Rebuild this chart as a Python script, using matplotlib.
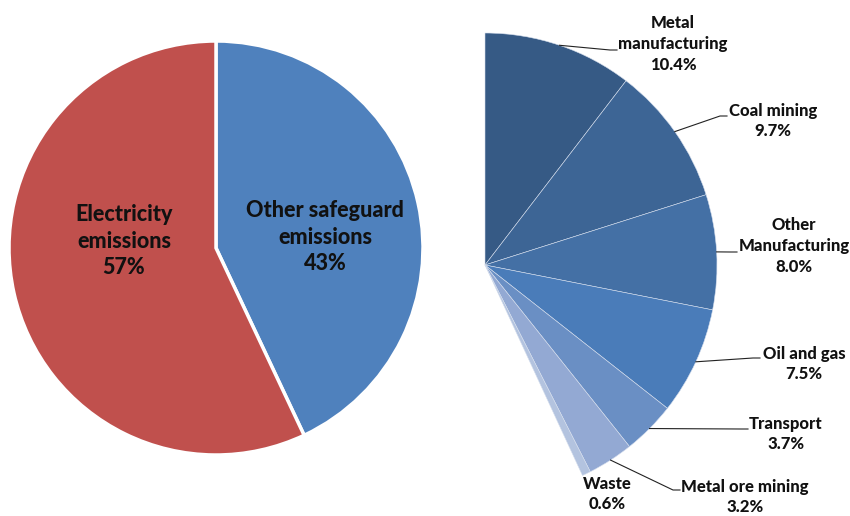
import numpy as np
import matplotlib
matplotlib.use("Agg")
import matplotlib.pyplot as plt

# left pie: share of safeguard emissions
main_labels = ["Other safeguard\nemissions", "Electricity\nemissions"]
main_values = [43, 57]
main_colors = ["#4f81bd", "#c0504d"]

# right pie: breakdown of "other" emissions (% of total)
sectors = ["Metal\nmanufacturing", "Coal mining", "Other\nManufacturing",
           "Oil and gas", "Transport", "Metal ore mining", "Waste"]
sector_values = [10.4, 9.7, 8.0, 7.5, 3.7, 3.2, 0.6]
sector_colors = ["#365a85", "#3d6595", "#4470a5", "#4a7cb9",
                 "#6a8fc4", "#93a9d3", "#b3c3df"]

W, H = 850, 516
plt.rcParams["font.family"] = ["Lato", "DejaVu Sans"]
plt.rcParams["font.weight"] = "bold"

fig = plt.figure(figsize=(W / 100, H / 100), dpi=100)
ax = fig.add_axes([0, 0, 1, 1])


def py(y):
    # pixel row -> data y
    return H - y


# left pie
ax.pie(main_values, colors=main_colors, startangle=90, counterclock=False,
       center=(216, py(248)), radius=207,
       wedgeprops=dict(edgecolor="white", linewidth=2.5))
main_pos = [(325, 237), (124, 241)]
for lab, v, (x, y) in zip(main_labels, main_values, main_pos):
    ax.text(x, py(y), f"{lab}\n{v}%", ha="center", va="center",
            fontsize=15.5, fontweight="black", color="#111111",
            linespacing=1.3)

# right pie, only the 43% slice expanded
cx, cy, r = 485, py(265), 232
wedges, _ = ax.pie([v / 100 for v in sector_values], colors=sector_colors,
                   startangle=90, counterclock=False, normalize=False,
                   center=(cx, cy), radius=r,
                   wedgeprops=dict(edgecolor="#d5deed", linewidth=0.4))

# label centre (x, y) and leader end point (x, y) in pixels; None = no leader
label_layout = [
    ((673, 44), (617, 50)),
    ((773, 121), (727, 116)),
    ((794, 246), (737, 252)),
    ((804, 364), (760, 358)),
    ((786, 434), (748, 429)),
    ((745, 497), (680, 490)),
    ((607, 494), None),
]
for w, lab, v, (tpos, lend) in zip(wedges, sectors, sector_values, label_layout):
    ax.text(tpos[0], py(tpos[1]), f"{lab}\n{v:.1f}%", ha="center",
            va="center", fontsize=12, fontweight="black", color="#111111",
            linespacing=1.35)
    if lend is None:
        continue
    mid = np.deg2rad((w.theta1 + w.theta2) / 2)
    ax0, ay0 = cx + r * np.cos(mid), cy + r * np.sin(mid)
    ex, ey = lend[0], py(lend[1])
    ax.plot([ax0, ex - 7, ex], [ay0, ey, ey], color="#222222", lw=0.8)

ax.set_xlim(0, W)
ax.set_ylim(0, H)
ax.set_aspect("equal")
ax.axis("off")

fig.savefig("out.png", dpi=100)
